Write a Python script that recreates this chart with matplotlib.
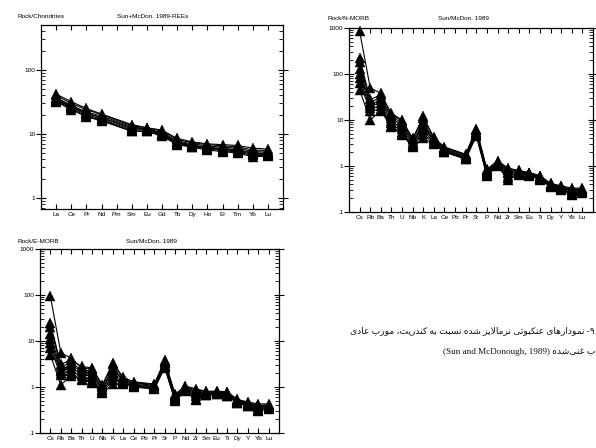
import numpy as np
import matplotlib
matplotlib.use("Agg")
import matplotlib.pyplot as plt
from matplotlib.ticker import FixedLocator, FixedFormatter, NullFormatter

# ---------------------------------------------------------------- data
ree_elements = ["La", "Ce", "Pr", "Nd", "Pm", "Sm", "Eu", "Gd", "Tb", "Dy",
                "Ho", "Er", "Tm", "Yb", "Lu"]
nan = np.nan
# rock / chondrite (REE), one row per sample; Pm not analysed
ree_chondrite = [
    [42, 32, 25, 20.5, nan, 14.0, 12.5, 11.5, 8.5, 7.5, 7.0, 6.8, 6.6, 6.0, 5.8],
    [40, 30, 24, 20.0, nan, 13.5, 12.5, 11.0, 8.2, 7.3, 6.8, 6.5, 6.3, 5.6, 5.5],
    [37, 28, 22, 19.0, nan, 13.0, 12.0, 10.5, 7.8, 7.0, 6.5, 6.2, 6.0, 5.3, 5.2],
    [35, 27, 21, 18.0, nan, 12.0, 11.8, 10.0, 7.5, 6.7, 6.2, 5.9, 5.7, 5.0, 5.0],
    [34, 26, 20, 17.0, nan, 11.5, 11.5, 9.8, 7.2, 6.5, 6.0, 5.7, 5.4, 4.8, 4.8],
    [33, 25, 19, 16.5, nan, 11.0, 11.0, 9.5, 7.0, 6.3, 5.8, 5.5, 5.2, 4.6, 4.6],
    [32, 24, 18.5, 16.0, nan, 11.0, 11.0, 9.2, 6.8, 6.2, 5.6, 5.3, 5.0, 4.4, 4.5],
    [36, 27, 21, 18.0, nan, 12.5, 12.0, 10.0, 7.4, 6.6, 6.1, 5.8, 5.6, 5.0, 4.9],
]

spider_elements = ["Cs", "Rb", "Ba", "Th", "U", "Nb", "K", "La", "Ce", "Pb",
                   "Pr", "Sr", "P", "Nd", "Zr", "Sm", "Eu", "Ti", "Dy", "Y",
                   "Yb", "Lu"]
# rock / N-MORB; Pb not analysed
nmorb_norm = [
    [850, 50, 38, 13.0, 9.5, 3.8, 12, 4.0, 2.6, nan, 1.80, 6.5, 0.85, 1.30, 0.90, 0.80, 0.72, 0.62, 0.42, 0.37, 0.33, 0.33],
    [220, 28, 35, 14.0, 10.0, 4.0, 11, 4.2, 2.5, nan, 1.75, 6.2, 0.80, 1.25, 0.85, 0.78, 0.70, 0.60, 0.41, 0.36, 0.31, 0.32],
    [180, 25, 30, 12.0, 8.5, 3.5, 9, 3.8, 2.4, nan, 1.70, 6.0, 0.78, 1.20, 0.80, 0.76, 0.70, 0.58, 0.40, 0.35, 0.30, 0.31],
    [130, 22, 27, 11.0, 7.5, 3.2, 8, 3.6, 2.3, nan, 1.60, 5.6, 0.75, 1.15, 0.75, 0.74, 0.68, 0.56, 0.39, 0.34, 0.29, 0.30],
    [100, 20, 24, 9.5, 6.5, 3.0, 7, 3.4, 2.2, nan, 1.55, 5.3, 0.72, 1.10, 0.70, 0.72, 0.67, 0.55, 0.38, 0.33, 0.28, 0.29],
    [80, 18, 20, 8.5, 5.5, 2.8, 6, 3.2, 2.1, nan, 1.50, 5.0, 0.68, 1.08, 0.62, 0.70, 0.65, 0.53, 0.37, 0.32, 0.26, 0.28],
    [65, 16, 17, 7.5, 5.0, 2.7, 5, 3.1, 2.05, nan, 1.45, 4.8, 0.64, 1.05, 0.55, 0.67, 0.63, 0.51, 0.36, 0.31, 0.25, 0.27],
    [45, 10, 16, 7.0, 4.8, 2.6, 4, 3.0, 2.0, nan, 1.40, 4.5, 0.60, 1.00, 0.50, 0.65, 0.62, 0.50, 0.35, 0.30, 0.23, 0.26],
]
# rock / E-MORB; Pb not analysed
emorb_norm = [
    [94, 5.6, 4.2, 2.6, 2.5, 1.07, 3.4, 1.59, 1.30, nan, 1.16, 3.78, 0.70, 1.05, 0.91, 0.81, 0.81, 0.79, 0.54, 0.47, 0.43, 0.43],
    [24.4, 3.1, 3.9, 2.8, 2.6, 1.12, 3.1, 1.67, 1.25, nan, 1.13, 3.60, 0.66, 1.01, 0.86, 0.79, 0.78, 0.76, 0.52, 0.46, 0.40, 0.41],
    [20, 2.8, 3.3, 2.4, 2.2, 0.98, 2.6, 1.51, 1.20, nan, 1.09, 3.49, 0.64, 0.97, 0.81, 0.77, 0.78, 0.73, 0.51, 0.44, 0.39, 0.40],
    [14.4, 2.4, 3.0, 2.2, 1.96, 0.90, 2.3, 1.43, 1.15, nan, 1.03, 3.25, 0.62, 0.93, 0.76, 0.75, 0.76, 0.71, 0.50, 0.43, 0.37, 0.39],
    [11.1, 2.2, 2.65, 1.9, 1.70, 0.84, 2.0, 1.35, 1.10, nan, 1.00, 3.08, 0.59, 0.89, 0.71, 0.73, 0.75, 0.70, 0.49, 0.42, 0.36, 0.37],
    [8.9, 2.0, 2.2, 1.7, 1.44, 0.79, 1.7, 1.27, 1.05, nan, 0.97, 2.90, 0.56, 0.88, 0.63, 0.71, 0.73, 0.67, 0.47, 0.41, 0.34, 0.36],
    [7.2, 1.78, 1.88, 1.5, 1.30, 0.76, 1.43, 1.23, 1.03, nan, 0.93, 2.79, 0.53, 0.85, 0.56, 0.68, 0.71, 0.65, 0.46, 0.39, 0.32, 0.35],
    [5.0, 1.11, 1.77, 1.4, 1.25, 0.73, 1.14, 1.19, 1.00, nan, 0.90, 2.61, 0.49, 0.81, 0.51, 0.66, 0.69, 0.63, 0.45, 0.38, 0.30, 0.34],
]

caption_line1 = "۹- نمودارهای عنکبوتی نرمالایز شده نسبت به کندریت، مورب عادی"
caption_line2_fa = "ب غنی\u200cشده"
caption_line2_ref = "(Sun and McDonough, 1989)"

# ---------------------------------------------------------------- Persian shaping
DUAL = {
    "ب": (0xFE8F, 0xFE90, 0xFE91, 0xFE92), "ت": (0xFE95, 0xFE96, 0xFE97, 0xFE98),
    "س": (0xFEB1, 0xFEB2, 0xFEB3, 0xFEB4), "ش": (0xFEB5, 0xFEB6, 0xFEB7, 0xFEB8),
    "ع": (0xFEC9, 0xFECA, 0xFECB, 0xFECC), "غ": (0xFECD, 0xFECE, 0xFECF, 0xFED0),
    "ل": (0xFEDD, 0xFEDE, 0xFEDF, 0xFEE0), "م": (0xFEE1, 0xFEE2, 0xFEE3, 0xFEE4),
    "ن": (0xFEE5, 0xFEE6, 0xFEE7, 0xFEE8), "ه": (0xFEE9, 0xFEEA, 0xFEEB, 0xFEEC),
    "ک": (0xFB8E, 0xFB8F, 0xFB90, 0xFB91), "ی": (0xFBFC, 0xFBFD, 0xFBFE, 0xFBFF),
}
RIGHT = {
    "ا": (0xFE8D, 0xFE8E), "د": (0xFEA9, 0xFEAA), "ر": (0xFEAD, 0xFEAE),
    "ز": (0xFEAF, 0xFEB0), "و": (0xFEED, 0xFEEE),
}


def shape_rtl(text):
    out = []
    i, n = 0, len(text)
    while i < n:
        ch = text[i]
        prev = text[i - 1] if i > 0 else ""
        nxt = text[i + 1] if i + 1 < n else ""
        if ch == "ل" and nxt == "ا":
            out.append(chr(0xFEFC if prev in DUAL else 0xFEFB))
            i += 2
            continue
        if ch in DUAL or ch in RIGHT:
            jp = prev in DUAL
            jn = ch in DUAL and (nxt in DUAL or nxt in RIGHT)
            forms = DUAL.get(ch) or RIGHT[ch]
            if jp and jn:
                out.append(chr(forms[3]))
            elif jp:
                out.append(chr(forms[1]))
            elif jn:
                out.append(chr(forms[2]))
            else:
                out.append(chr(forms[0]))
        elif ch != "\u200c":
            out.append(ch)
        i += 1
    return "".join(reversed(out))


# ---------------------------------------------------------------- figure
W, H = 596, 448
fig = plt.figure(figsize=(W / 100, H / 100), dpi=100)
fig.patch.set_facecolor("white")

LABEL_FONT = ["Liberation Sans Narrow", "Liberation Sans", "DejaVu Sans"]


def px_axes(x0, y0, x1, y1):
    return fig.add_axes([x0 / W, 1 - y1 / H, (x1 - x0) / W, (y1 - y0) / H])


def fig_text(x, y, s, **kw):
    fig.text(x / W, 1 - y / H, s, **kw)


def style_axes(ax, labels, ylim, majors, major_labels):
    n = len(labels)
    ax.set_yscale("log")
    ax.set_xlim(0, n + 1)
    ax.set_ylim(*ylim)
    ax.xaxis.set_major_locator(FixedLocator(np.arange(1, n + 1)))
    ax.xaxis.set_major_formatter(FixedFormatter(labels))
    ax.yaxis.set_major_locator(FixedLocator(majors))
    ax.yaxis.set_major_formatter(FixedFormatter(major_labels))
    minors = [m * 10.0 ** e for e in range(-2, 4) for m in range(2, 10)]
    minors = [v for v in minors if ylim[0] < v < ylim[1]]
    ax.yaxis.set_minor_locator(FixedLocator(minors))
    ax.yaxis.set_minor_formatter(NullFormatter())
    ax.xaxis.set_minor_locator(FixedLocator([]))
    ax.tick_params(axis="x", which="major", direction="in", top=True, bottom=True,
                   length=3.5, width=0.8, pad=2, labelsize=4.6)
    ax.tick_params(axis="y", which="major", direction="inout", left=True, right=True,
                   length=7, width=0.8, pad=0.5, labelsize=4.6)
    ax.tick_params(axis="y", which="minor", direction="in", left=True, right=True,
                   length=3, width=0.6)
    for lab in ax.get_xticklabels() + ax.get_yticklabels():
        lab.set_family(LABEL_FONT)
    for sp in ax.spines.values():
        sp.set_linewidth(0.9)


def draw_samples(ax, rows):
    for row in rows:
        vals = np.asarray(row, dtype=float)
        x = np.arange(1, len(vals) + 1)
        ok = ~np.isnan(vals)
        ax.plot(x[ok], vals[ok], color="black", lw=0.8, marker="^", ms=7.5,
                mfc="black", mec="black", mew=0.3, clip_on=False, zorder=3)


# chondrite-normalised REE
ax1 = px_axes(41, 25, 283, 209)
style_axes(ax1, ree_elements, (0.67, 505), [1, 10, 100], ["1", "10", "100"])
draw_samples(ax1, ree_chondrite)
fig_text(17, 17, "Rock/Chondrites", fontsize=4.6, family=LABEL_FONT, va="center")
fig_text(153, 17, "Sun+McDon. 1989-REEs", fontsize=4.6, family=LABEL_FONT,
         ha="center", va="center")

# N-MORB-normalised spider diagram
ax2 = px_axes(349, 28, 593, 212)
style_axes(ax2, spider_elements, (0.1, 1000), [0.1, 1, 10, 100, 1000],
           [".1", "1", "10", "100", "1000"])
draw_samples(ax2, nmorb_norm)
fig_text(328, 18, "Rock/N-MORB", fontsize=4.6, family=LABEL_FONT, va="center")
fig_text(463, 18, "Sun/McDon. 1989", fontsize=4.6, family=LABEL_FONT,
         ha="center", va="center")

# E-MORB-normalised spider diagram
ax3 = px_axes(40, 249, 279, 433)
style_axes(ax3, spider_elements, (0.1, 1000), [0.1, 1, 10, 100, 1000],
           [".1", "1", "10", "100", "1000"])
draw_samples(ax3, emorb_norm)
fig_text(17, 241, "Rock/E-MORB", fontsize=4.6, family=LABEL_FONT, va="center")
fig_text(151, 241, "Sun/McDon. 1989", fontsize=4.6, family=LABEL_FONT,
         ha="center", va="center")

# caption
CAP_FONT = ["Liberation Serif", "DejaVu Sans"]
fig_text(595, 331, shape_rtl(caption_line1), fontsize=6.6, family=CAP_FONT,
         ha="right", va="center", color="#111111")
fig_text(595, 352, caption_line2_ref + " " + shape_rtl(caption_line2_fa),
         fontsize=6.6, family=CAP_FONT, ha="right", va="center", color="#111111")

fig.savefig("out.png", dpi=100, facecolor="white")
